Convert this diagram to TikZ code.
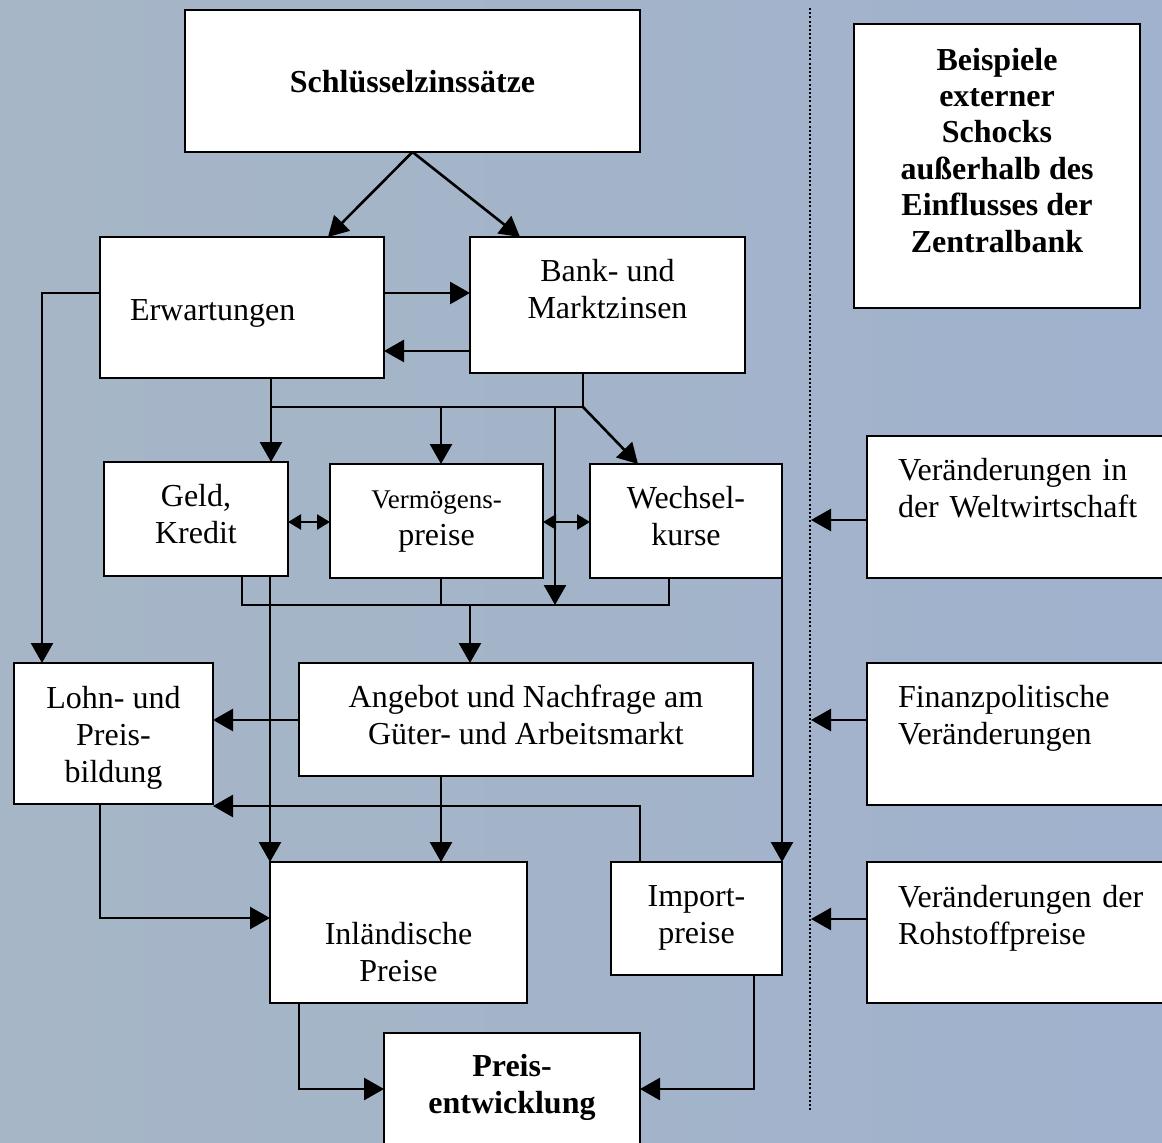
\documentclass[tikz,border=0pt]{standalone}
\usepackage{fontspec}
\setmainfont{Liberation Serif}
\usetikzlibrary{arrows.meta,calc}
\definecolor{bgL}{RGB}{166,182,198}
\definecolor{bgR}{RGB}{160,178,205}
\begin{document}
\begin{tikzpicture}[x=1pt,y=-1pt,
  box/.style={draw=black, line width=2.6pt, fill=white, inner sep=0pt, outer sep=0pt, align=center, font=\fontsize{32}{37}\selectfont},
  boldbox/.style={box, font=\fontsize{32}{37}\selectfont\bfseries},
  tb/.style={text height=#1, text depth=0pt},
  tbd/.style={text height=0pt, text depth=#1},
  conn/.style={line width=2.6pt, line join=miter},
  arr/.style={conn, -{Triangle[length=20pt,width=22pt]}},
  darr/.style={conn, {Triangle[length=13pt,width=15pt]}-{Triangle[length=13pt,width=15pt]}},
  dotline/.style={line width=2pt, dash pattern=on 2pt off 2.2pt}
]
\clip (0,0) rectangle (1162,1143);
\fill[left color=bgL, right color=bgR] (0,0) rectangle (1162,1143);

% nodes
\node[boldbox, tb=22pt, minimum width=455pt, minimum height=142pt] (schl) at (412.5,81) {Schlüsselzinssätze};
\node[box, tb=25pt, minimum width=284pt, minimum height=141pt, text width=224pt, inner xsep=30pt, align=left] (erw) at (242,307.5) {Erwartungen};
\node[box, tb=26pt, minimum width=275pt, minimum height=136pt] (bank) at (607.5,305) {Bank- und\\Marktzinsen};
\node[boldbox, tb=172pt, minimum width=286pt, minimum height=284pt, font=\fontsize{32}{36.4}\selectfont\bfseries] (beisp) at (997,166) {Beispiele\\externer\\Schocks\\außerhalb des\\Einflusses der\\Zentralbank};
\node[box, tb=48pt, minimum width=184pt, minimum height=114pt] (geld) at (196,519) {Geld,\\Kredit};
\node[box, tb=48pt, minimum width=213pt, minimum height=114pt] (verm) at (436.5,521) {{\fontsize{27}{33}\selectfont Vermögens-}\\preise};
\node[box, tb=48pt, minimum width=192pt, minimum height=114pt] (wech) at (686,521) {Wechsel-\\kurse};
\node[box, tb=97pt, minimum width=199pt, minimum height=141pt] (lohn) at (113.5,733.5) {Lohn- und\\Preis-\\bildung};
\node[box, tb=49pt, minimum width=454pt, minimum height=113pt] (ang) at (526,719.5) {Angebot und Nachfrage am\\Güter- und Arbeitsmarkt};
\node[box, tb=97pt, minimum width=257pt, minimum height=141pt] (inl) at (398.5,932.5) {Inländische\\Preise};
\node[box, tb=49pt, minimum width=171pt, minimum height=113pt] (imp) at (696.5,918.5) {Import-\\preise};
\node[boldbox, tb=18pt, minimum width=256pt, minimum height=142pt] (pe) at (512,1104) {Preis-\\entwicklung};
\node[box, tbd=54pt, minimum width=310pt, minimum height=142pt, text width=248pt, inner xsep=31pt, align=left] (welt) at (1022,507) {Veränderungen in\\der Weltwirtschaft};
\node[box, tbd=54pt, minimum width=310pt, minimum height=142pt, text width=248pt, inner xsep=31pt, align=left] (fin) at (1022,734) {Finanzpolitische\\Veränderungen};
\node[box, tbd=51pt, minimum width=310pt, minimum height=141pt, text width=248pt, inner xsep=31pt, align=left] (roh) at (1022,932.5) {Veränderungen der\\Rohstoffpreise};

% helper coordinates
\coordinate (tA) at (328,0);
\coordinate (tB) at (520,0);
\coordinate (yA) at (0,293);
\coordinate (yB) at (0,351);
\coordinate (xL) at (42,0);
\coordinate (jE) at (271,407);
\coordinate (jB) at (583,407);
\coordinate (jM) at (555,407);
\coordinate (tW) at (638,0);
\coordinate (tV) at (441,0);
\coordinate (yC) at (0,605);
\coordinate (xG) at (242,0);
\coordinate (xW) at (669,0);
\coordinate (xA) at (470,0);
\coordinate (yD) at (0,522);
\coordinate (yE) at (0,720);
\coordinate (xI) at (640,0);
\coordinate (yF) at (0,806);
\coordinate (xLb) at (100,0);
\coordinate (yG) at (0,918);
\coordinate (yH) at (0,1089);
\coordinate (xP) at (299,0);
\coordinate (xQ) at (754,0);
\coordinate (dtop) at (810,8);
\coordinate (dbot) at (810,1112);
\coordinate (dl) at (811,0);
\coordinate (yW) at (0,520);
\coordinate (yFi) at (0,720);
\coordinate (yR) at (0,919);

% connectors
\draw[arr] (schl.south) -- (erw.north -| tA);
\draw[arr] (schl.south) -- (bank.north -| tB);
\draw[arr] (erw.east |- yA) -- (bank.west |- yA);
\draw[arr] (bank.west |- yB) -- (erw.east |- yB);
\draw[arr] (erw.west |- yA) -| (lohn.north -| xL);
\draw[arr] (erw.south -| jE) -- (geld.north -| jE);
\draw[conn] (jE) -- (jB);
\draw[conn] (bank.south -| jB) -- (jB);
\draw[arr] (jB) -- (wech.north -| tW);
\draw[arr] (jE -| tV) -- (verm.north -| tV);
\draw[arr] (jM) -- (jM |- yC);
\draw[conn] (geld.south -| xG) -- (xG |- yC) -- (yC -| xW) -- (wech.south -| xW);
\draw[conn] (verm.south -| tV) -- (tV |- yC);
\draw[arr] (yC -| xA) -- (ang.north -| xA);
\draw[darr] (geld.east |- yD) -- (verm.west |- yD);
\draw[darr] (verm.east |- yD) -- (wech.west |- yD);
\draw[arr] (geld.south -| inl.north west) -- (inl.north west);
\draw[arr] (ang.west |- yE) -- (lohn.east |- yE);
\draw[arr] (ang.south -| tV) -- (inl.north -| tV);
\draw[arr] (imp.north -| xI) |- (lohn.east |- yF);
\draw[arr] (lohn.south -| xLb) |- (inl.west |- yG);
\draw[arr] (wech.south east) -- (imp.north east);
\draw[arr] (inl.south -| xP) |- (pe.west |- yH);
\draw[arr] (imp.south -| xQ) |- (pe.east |- yH);
\draw[dotline] (dtop) -- (dbot);
\draw[arr] (welt.west |- yW) -- (dl |- yW);
\draw[arr] (fin.west |- yFi) -- (dl |- yFi);
\draw[arr] (roh.west |- yR) -- (dl |- yR);
\end{tikzpicture}
\end{document}
